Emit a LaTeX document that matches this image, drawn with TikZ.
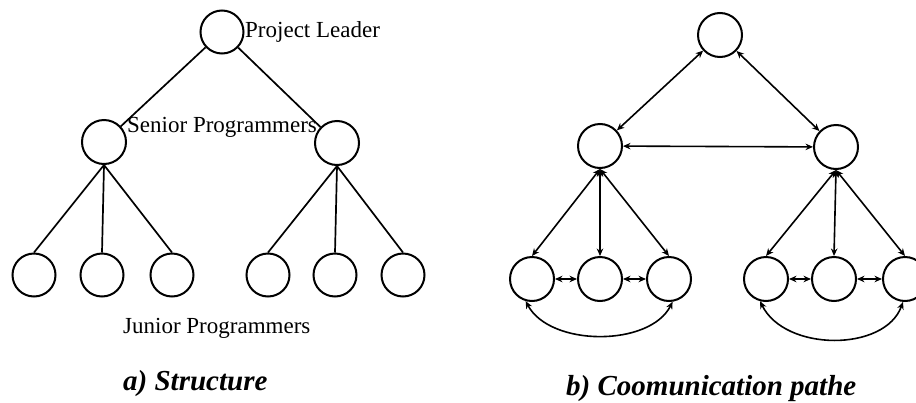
\documentclass[tikz,border=0pt]{standalone}
\usepackage{fontspec}
\setmainfont{Liberation Serif}
\usetikzlibrary{arrows.meta}
\begin{document}
\begin{tikzpicture}[x=1pt,y=-1pt,
  person/.style={circle,draw,line width=2pt,minimum size=43pt,inner sep=0pt},
  tie/.style={line width=1.7pt},
  talk/.style={line width=1.6pt,{Stealth[length=7.5pt,width=6.5pt]}-{Stealth[length=7.5pt,width=6.5pt]}},
  lbl/.style={font=\fontsize{23}{26}\selectfont,inner sep=0pt,anchor=base west},
  captxt/.style={font=\fontsize{29}{32}\selectfont\bfseries\itshape,inner sep=0pt,anchor=base west}]
\useasboundingbox (0,0) rectangle (916,402);
\clip (0,0) rectangle (916,402);
\fill[white] (0,0) rectangle (916,402);
% ---- a) structure
\node[person] (pl) at (222,32) {};
\node[person,minimum size=44pt] (s1) at (104,142) {};
\node[person,minimum size=44pt] (s2) at (337,143) {};
\node[person] (j1) at (34,275) {};
\node[person] (j2) at (102,275) {};
\node[person] (j3) at (172,275) {};
\node[person] (j4) at (268,275) {};
\node[person] (j5) at (335,275) {};
\node[person] (j6) at (403,275) {};
\draw[tie] (pl) -- (s1);
\draw[tie] (pl) -- (s2);
\foreach \j in {j1,j2,j3} \draw[tie] (s1.south) -- (\j.north);
\foreach \j in {j4,j5,j6} \draw[tie] (s2.south) -- (\j.north);
\node[lbl] (tpl) at (245,37) {Project Leader};
\node[lbl] (tsp) at (127,132) {Senior Programmers};
\node[lbl] (tjp) at (123,333) {Junior Programmers};
\node[captxt] (ca) at (123,390) {a) Structure};
% ---- b) communication paths
\node[person,minimum size=44pt] (t) at (720,35) {};
\node[person,minimum size=44pt] (r1) at (600,146) {};
\node[person,minimum size=44pt] (r2) at (836,147) {};
\node[person,minimum size=44pt] (k1) at (532,279) {};
\node[person,minimum size=44pt] (k2) at (600,279) {};
\node[person,minimum size=44pt] (k3) at (669,279) {};
\node[person,minimum size=44pt] (k4) at (766,279) {};
\node[person,minimum size=44pt] (k5) at (834,279) {};
\node[person,minimum size=44pt] (k6) at (905,279) {};
\draw[talk] (t) -- (r1);
\draw[talk] (t) -- (r2);
\draw[talk] (r1) -- (r2);
\foreach \k in {k1,k2,k3} \draw[talk] (r1.south) -- (\k.north);
\foreach \k in {k4,k5,k6} \draw[talk] (r2.south) -- (\k.north);
\draw[talk] (k1) -- (k2);
\draw[talk] (k2) -- (k3);
\draw[talk] (k4) -- (k5);
\draw[talk] (k5) -- (k6);
\draw[talk] (k1.254) .. controls (550,347) and (650,347) .. (k3.279);
\draw[talk] (k4.255) .. controls (785,352) and (885,352) .. (k6.265);
\node[captxt] (cb) at (566,395) {b) Coomunication pathe};
\end{tikzpicture}
\end{document}
